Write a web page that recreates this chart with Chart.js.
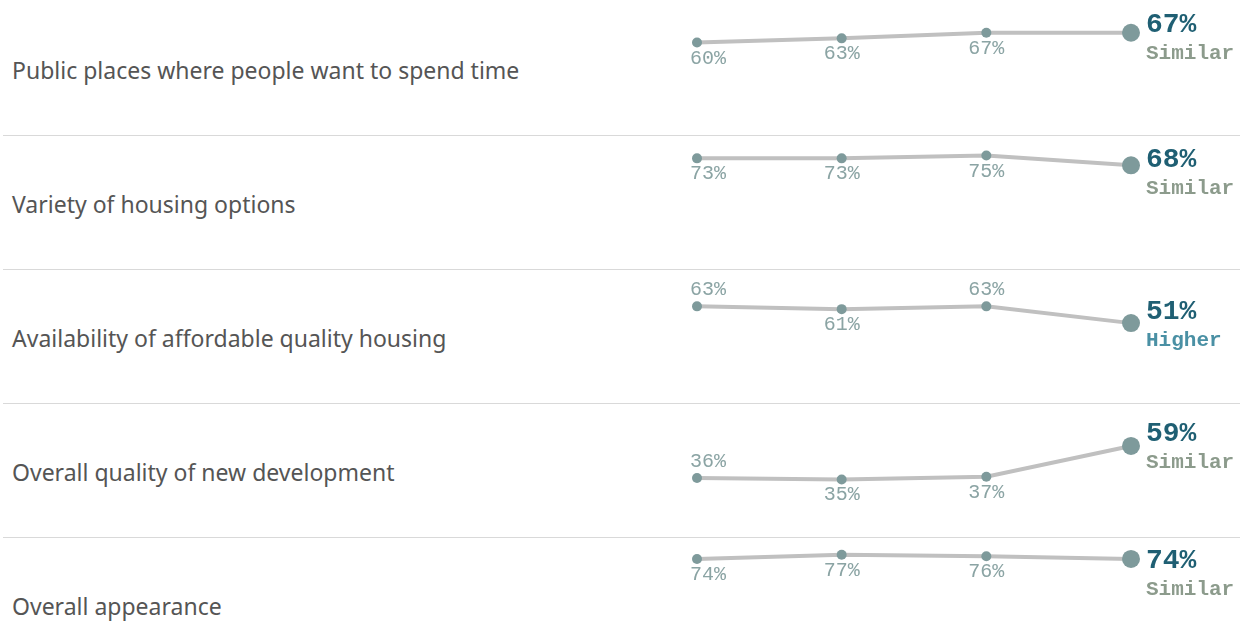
<!DOCTYPE html>
<html>
<head>
<meta charset="utf-8">
<script src="https://cdn.jsdelivr.net/npm/chart.js@4.4.1/dist/chart.umd.min.js"></script>
<style>
  body { margin: 0; background: #fff; width: 1240px; height: 622px; overflow: hidden; position: relative; }
  .row-label { position: absolute; left: 12px; font-family: "Noto Sans", sans-serif; font-size: 23px; color: #555; white-space: nowrap; transform: translateY(-50%); }
  .sep { position: absolute; left: 3px; width: 1237px; height: 1px; background: #d9d9d9; }
  canvas { position: absolute; left: 680px; }
</style>
</head>
<body>
<script>
// row labels (top to bottom)
const categories = [
  "Public places where people want to spend time",
  "Variety of housing options",
  "Availability of affordable quality housing",
  "Overall quality of new development",
  "Overall appearance"
];
// survey waves (x axis, not shown)
const waves = ["1", "2", "3", "4"];

// % per wave, one array per row
const publicPlaces = [60, 63, 67, 67];
const housingVariety = [73, 73, 75, 68];
const affordableHousing = [63, 61, 63, 51];
const newDevelopment = [36, 35, 37, 59];
const overallAppearance = [74, 77, 76, 74];

// comparison text beside the latest value
const comparison = ["Similar", "Similar", "Higher", "Similar", "Similar"];

const rowValues = [publicPlaces, housingVariety, affordableHousing, newDevelopment, overallAppearance];

// label placement (1 = above the point), per row, first three points
const labelAbove = [[0, 0, 0], [0, 0, 0], [1, 0, 1], [1, 0, 0], [0, 0, 0]];
// vertical shift of the big end label vs the last point
const endShift = [-10, -7, -13, -14, 0];

const ROW_H = 134;
const monoFont = '"Liberation Mono", "Courier New", monospace';

const labelPlugin = {
  id: "pointText",
  afterDatasetsDraw(chart) {
    const row = chart.options.rowIndex;
    const vals = rowValues[row];
    const pts = chart.getDatasetMeta(0).data;
    const ctx = chart.ctx;
    ctx.save();
    ctx.textBaseline = "alphabetic";
    // small labels
    ctx.font = "20px " + monoFont;
    ctx.fillStyle = "#8ba4a4";
    for (let i = 0; i < pts.length - 1; i++) {
      const p = pts[i];
      const txt = vals[i] + "%";
      let x = p.x;
      if (i === 0) {
        ctx.textAlign = "left";
        x = p.x - 7;
      } else {
        ctx.textAlign = "center";
      }
      const y = labelAbove[row][i] ? p.y - 11 : p.y + 21;
      ctx.fillText(txt, x, y);
    }
    // end label
    const last = pts[pts.length - 1];
    const cy = last.y + endShift[row];
    ctx.textAlign = "left";
    ctx.font = "bold 28px " + monoFont;
    ctx.fillStyle = "#1f5f73";
    ctx.fillText(vals[vals.length - 1] + "%", last.x + 15, cy + 9);
    ctx.font = "bold 21px " + monoFont;
    ctx.fillStyle = comparison[row] === "Higher" ? "#4a90a4" : "#8c9b8c";
    ctx.fillText(comparison[row], last.x + 15, cy + 36);
    ctx.restore();
  }
};

categories.forEach(function (name, r) {
  const top = r * ROW_H;

  const lbl = document.createElement("div");
  lbl.className = "row-label";
  lbl.style.top = (top + 70) + "px";
  lbl.textContent = name;
  document.body.appendChild(lbl);

  if (r < categories.length - 1) {
    const sep = document.createElement("div");
    sep.className = "sep";
    sep.style.top = (top + ROW_H + 1) + "px";
    document.body.appendChild(sep);
  }

  const cv = document.createElement("canvas");
  cv.width = 560;
  cv.height = ROW_H;
  cv.style.top = top + "px";
  document.body.appendChild(cv);

  new Chart(cv, {
    type: "line",
    data: {
      labels: waves,
      datasets: [{
        data: rowValues[r],
        borderColor: "#c0c0c0",
        borderWidth: 4,
        tension: 0,
        clip: false,
        pointBackgroundColor: "#7e9a9b",
        pointBorderWidth: 0,
        pointRadius: [5, 5, 5, 9],
        pointHoverRadius: [5, 5, 5, 9]
      }]
    },
    options: {
      rowIndex: r,
      responsive: false,
      animation: false,
      events: [],
      layout: { padding: { left: 17, right: 109, top: 0, bottom: 0 } },
      scales: {
        x: { type: "category", display: false, offset: false },
        y: { display: false, min: 1, max: 84 }
      },
      plugins: { legend: { display: false }, tooltip: { enabled: false } }
    },
    plugins: [labelPlugin]
  });
});
</script>
</body>
</html>
